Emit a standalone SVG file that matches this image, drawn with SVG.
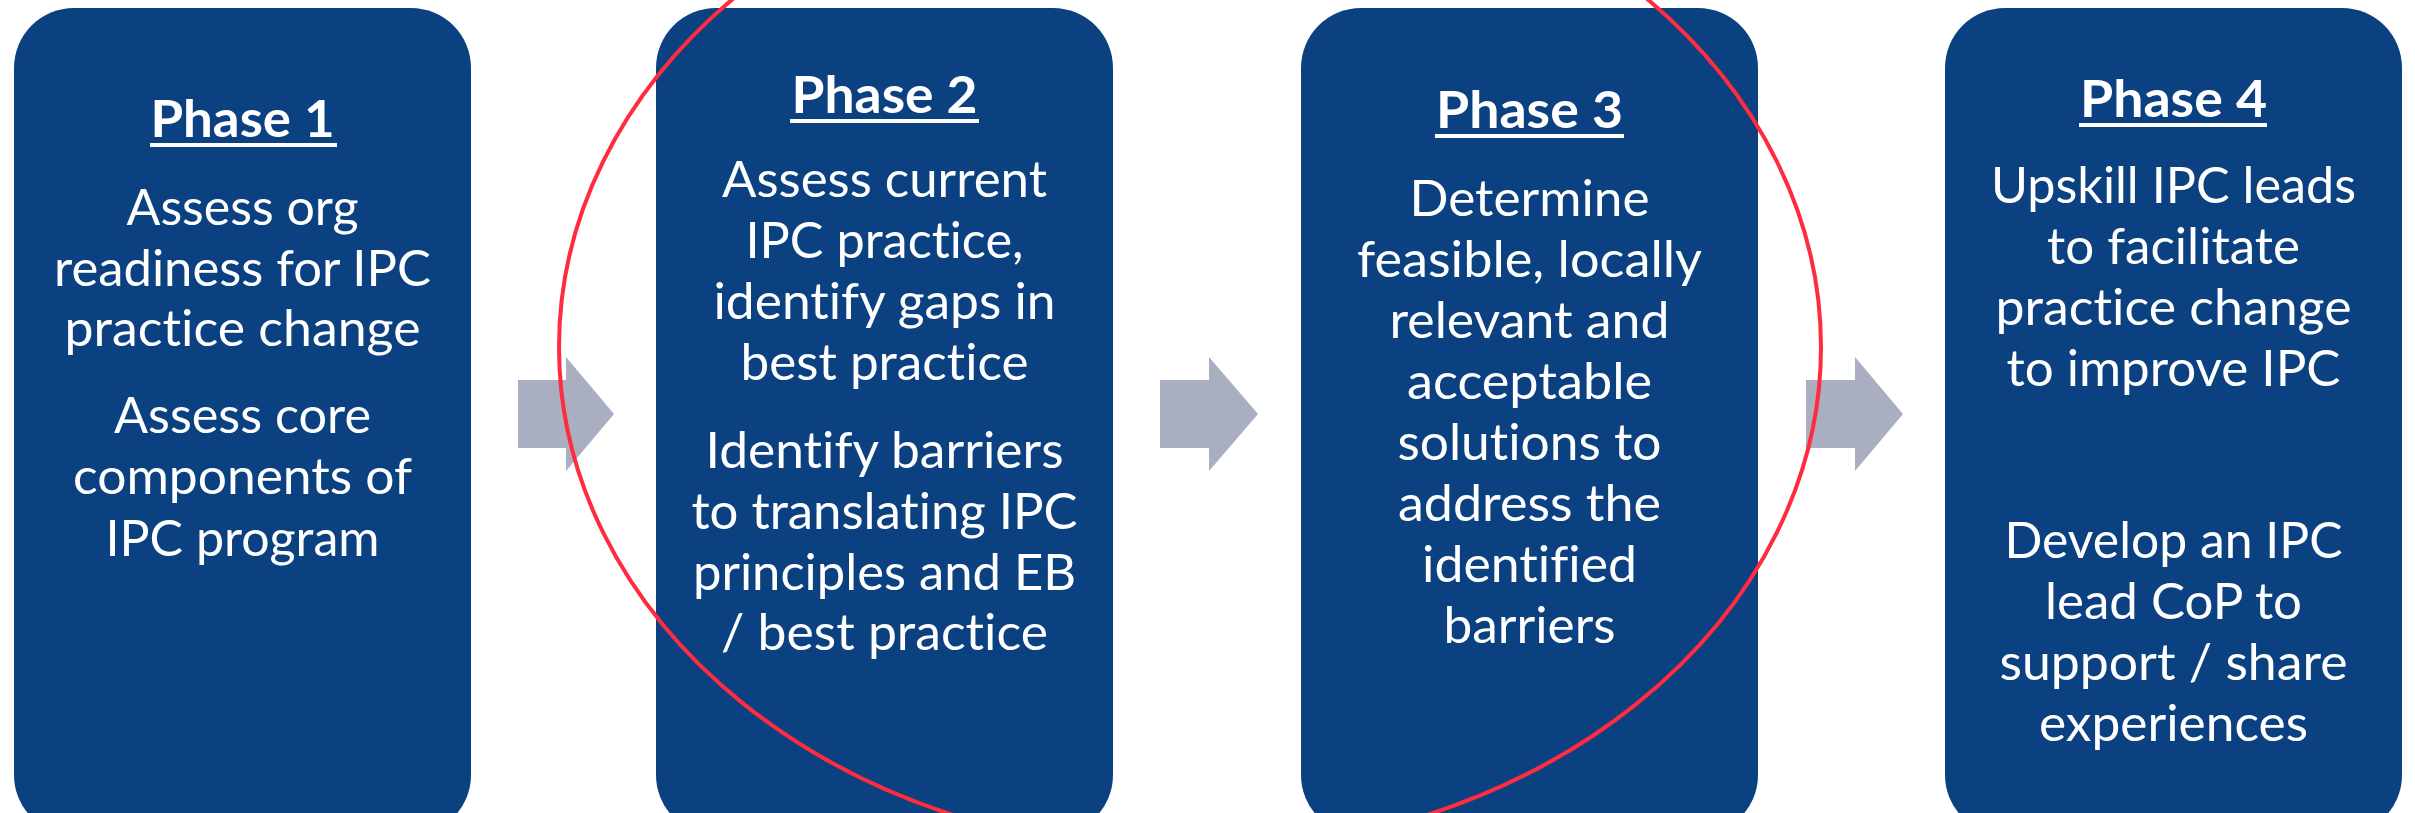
<svg xmlns="http://www.w3.org/2000/svg" width="2415" height="813" viewBox="0 0 2415 813">
<style>
.box{fill:#0B4180}
.arrow{fill:#A9AEC1}
.title{font-family:Lato,"Open Sans","DejaVu Sans",sans-serif;font-weight:bold;font-size:52px;fill:#FFFFFF;text-anchor:middle;font-variant-ligatures:none}
.body{font-family:Lato,"Open Sans","DejaVu Sans",sans-serif;font-size:50px;fill:#FFFFFF;text-anchor:middle;font-variant-ligatures:none}
.ul{fill:#FFFFFF}
.mark{fill:none;stroke:#FF2B3F;stroke-width:4}
</style>
<rect width="2415" height="813" fill="#FFFFFF"/>
<g id="phase1">
<rect class="box" x="14" y="8" width="457" height="827" rx="60" ry="60"/>
<text class="title" x="242.5" y="137" textLength="184" lengthAdjust="spacingAndGlyphs">Phase 1</text>
<rect class="ul" x="150" y="143" width="187" height="4"/>
<text class="body" x="242.5" y="225" textLength="232" lengthAdjust="spacingAndGlyphs">Assess org</text>
<text class="body" x="242.5" y="286" textLength="377" lengthAdjust="spacingAndGlyphs">readiness for IPC</text>
<text class="body" x="242.5" y="346" textLength="356" lengthAdjust="spacingAndGlyphs">practice change</text>
<text class="body" x="242.5" y="433" textLength="257" lengthAdjust="spacingAndGlyphs">Assess core</text>
<text class="body" x="242.5" y="494" textLength="339" lengthAdjust="spacingAndGlyphs">components of</text>
<text class="body" x="242.5" y="556" textLength="274" lengthAdjust="spacingAndGlyphs">IPC program</text>
</g>
<g id="phase2">
<rect class="box" x="656" y="8" width="457" height="827" rx="60" ry="60"/>
<text class="title" x="884.5" y="113" textLength="186" lengthAdjust="spacingAndGlyphs">Phase 2</text>
<rect class="ul" x="790" y="119" width="189" height="4"/>
<text class="body" x="884.5" y="197" textLength="325" lengthAdjust="spacingAndGlyphs">Assess current</text>
<text class="body" x="884.5" y="258" textLength="278" lengthAdjust="spacingAndGlyphs">IPC practice,</text>
<text class="body" x="884.5" y="319" textLength="342" lengthAdjust="spacingAndGlyphs">identify gaps in</text>
<text class="body" x="884.5" y="380" textLength="288" lengthAdjust="spacingAndGlyphs">best practice</text>
<text class="body" x="884.5" y="468" textLength="358" lengthAdjust="spacingAndGlyphs">Identify barriers</text>
<text class="body" x="884.5" y="529" textLength="386" lengthAdjust="spacingAndGlyphs">to translating IPC</text>
<text class="body" x="884.5" y="590" textLength="383" lengthAdjust="spacingAndGlyphs">principles and EB</text>
<text class="body" x="884.5" y="650" textLength="327" lengthAdjust="spacingAndGlyphs">/ best practice</text>
</g>
<g id="phase3">
<rect class="box" x="1301" y="8" width="457" height="827" rx="60" ry="60"/>
<text class="title" x="1529.5" y="128" textLength="187" lengthAdjust="spacingAndGlyphs">Phase 3</text>
<rect class="ul" x="1435" y="134" width="189" height="4"/>
<text class="body" x="1529.5" y="216" textLength="240" lengthAdjust="spacingAndGlyphs">Determine</text>
<text class="body" x="1529.5" y="277" textLength="345" lengthAdjust="spacingAndGlyphs">feasible, locally</text>
<text class="body" x="1529.5" y="338" textLength="280" lengthAdjust="spacingAndGlyphs">relevant and</text>
<text class="body" x="1529.5" y="399" textLength="245" lengthAdjust="spacingAndGlyphs">acceptable</text>
<text class="body" x="1529.5" y="460" textLength="264" lengthAdjust="spacingAndGlyphs">solutions to</text>
<text class="body" x="1529.5" y="521" textLength="263" lengthAdjust="spacingAndGlyphs">address the</text>
<text class="body" x="1529.5" y="582" textLength="215" lengthAdjust="spacingAndGlyphs">identified</text>
<text class="body" x="1529.5" y="643" textLength="172" lengthAdjust="spacingAndGlyphs">barriers</text>
</g>
<g id="phase4">
<rect class="box" x="1945" y="8" width="457" height="827" rx="60" ry="60"/>
<text class="title" x="2173.5" y="117" textLength="187" lengthAdjust="spacingAndGlyphs">Phase 4</text>
<rect class="ul" x="2079" y="123" width="188" height="4"/>
<text class="body" x="2173.5" y="203" textLength="365" lengthAdjust="spacingAndGlyphs">Upskill IPC leads</text>
<text class="body" x="2173.5" y="264" textLength="253" lengthAdjust="spacingAndGlyphs">to facilitate</text>
<text class="body" x="2173.5" y="325" textLength="356" lengthAdjust="spacingAndGlyphs">practice change</text>
<text class="body" x="2173.5" y="386" textLength="334" lengthAdjust="spacingAndGlyphs">to improve IPC</text>
<text class="body" x="2173.5" y="558" textLength="338" lengthAdjust="spacingAndGlyphs">Develop an IPC</text>
<text class="body" x="2173.5" y="619" textLength="257" lengthAdjust="spacingAndGlyphs">lead CoP to</text>
<text class="body" x="2173.5" y="680" textLength="348" lengthAdjust="spacingAndGlyphs">support / share</text>
<text class="body" x="2173.5" y="741" textLength="269" lengthAdjust="spacingAndGlyphs">experiences</text>
</g>
<g id="connectors">
<polygon class="arrow" points="518,380 566,380 566,357 614,414 566,471 566,448 518,448"/>
<polygon class="arrow" points="1160,380 1209,380 1209,357 1258,414 1209,471 1209,448 1160,448"/>
<polygon class="arrow" points="1806,380 1855,380 1855,357 1903,414 1855,471 1855,448 1806,448"/>
</g>
<g id="highlight">
<ellipse class="mark" cx="1190" cy="347" rx="631" ry="505"/>
</g>
</svg>
